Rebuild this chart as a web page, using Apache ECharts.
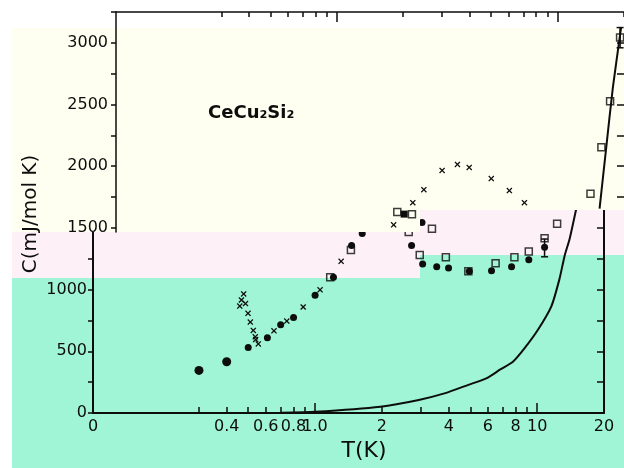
<!DOCTYPE html>
<html>
<head>
<meta charset="utf-8">
<script src="https://cdn.jsdelivr.net/npm/echarts@6/dist/echarts.min.js"></script>
<style>html,body{margin:0;padding:0;background:#fff}#c{width:624px;height:468px}</style>
</head>
<body>
<div id="c"></div>
<script>
// ---------- data (lower part of the figure) ----------
const circleT = [0.30, 0.40, 0.50, 0.61, 0.70, 0.80, 1.00, 1.21, 1.46, 1.63, 2.72, 3.03, 3.05, 3.53, 3.99, 4.95, 6.23, 7.67, 9.17, 10.8];
const circleC = [345, 415, 530, 610, 715, 775, 955, 1100, 1357, 1455, 1357, 1544, 1207, 1185, 1175, 1148, 1153, 1185, 1242, 1344];
const squareT = [1.17, 1.45, 2.64, 2.96, 3.36, 3.88, 4.90, 6.50, 7.90, 9.17, 10.8, 12.3];
const squareC = [1100, 1321, 1466, 1281, 1493, 1262, 1148, 1213, 1262, 1308, 1417, 1533];
const crossT = [0.458, 0.466, 0.477, 0.486, 0.499, 0.511, 0.527, 0.538, 0.540, 0.555, 0.653, 0.746, 0.884, 1.053, 1.31];
const crossC = [867, 916, 965, 887, 808, 737, 669, 617, 595, 560, 666, 745, 859, 998, 1229];
const curveT = [0.7, 1.0, 1.97, 2.93, 3.86, 4.9, 5.94, 6.8, 7.8, 8.8, 10.1, 11.6, 12.6, 13.3, 14.0, 15.0];
const curveC = [2, 10, 51, 106, 161, 228, 283, 351, 418, 528, 677, 867, 1085, 1275, 1411, 1656];
const errT = [10.8, 10.8];
const errC = [1266, 1410];
// ---------- data (upper part of the figure) ----------
const upCrossT = [1.81, 2.21, 2.48, 3.00, 3.52, 3.98, 5.01, 6.05, 7.08];
const upCrossC = [1525, 1705, 1810, 1966, 2015, 1990, 1900, 1803, 1705];
const upSquareT = [1.88, 2.19, 14.1, 15.8, 17.3, 19.2];
const upSquareC = [1629, 1610, 1778, 2153, 2526, 3043];
const upCircleT = [2.02];
const upCircleC = [1612];
const upCurveT = [15.5, 16.6, 17.8, 19.4];
const upCurveC = [1656, 2145, 2635, 3124];
const upErrT = [19.2, 19.2];
const upErrC = [2960, 3124];
// ---------- ticks ----------
const xTicks = [0.3, 0.4, 0.5, 0.6, 0.7, 0.8, 0.9, 1, 2, 3, 4, 5, 6, 7, 8, 9, 10, 20];
const xMajorTicks = [1, 10];
const xLabels = [0.1, 0.4, 0.6, 0.8, 1, 2, 4, 6, 8, 10, 20];
const xLabelText = ['0', '0.4', '0.6', '0.8', '1.0', '2', '4', '6', '8', '10', '20'];
const yLowLabels = [0, 500, 1000];
const yUpLabels = [1500, 2000, 2500, 3000];
const yUpTicks = [1500, 1750, 2000, 2250, 2500, 2750, 3000, 3250];
const yUpRightTicks = [1750, 2000, 2250, 2500, 2750, 3000];

const zip = (a, b) => a.map((v, i) => [v, b[i]]);
const INK = '#0d0d0d';
const FONT = 'DejaVu Sans';
const BEIGE = '#fefff0', PINK = '#fdf1f7', GREEN = '#9ff5d6';
const crossPath = 'path://M0,1.5L1.5,0L5,3.5L8.5,0L10,1.5L6.5,5L10,8.5L8.5,10L5,6.5L1.5,10L0,8.5L3.5,5Z';
const plain = v => String(Math.round(v));

const chart = echarts.init(document.getElementById('c'), null, {renderer: 'canvas'});
const logX = (grid, extra) => Object.assign({
  gridIndex: grid, type: 'log', logBase: 10, min: 0.1, max: 20,
  splitLine: {show: false}, minorTick: {show: false}
}, extra);

chart.setOption({
  backgroundColor: '#ffffff',
  animation: false,
  textStyle: {fontFamily: FONT, color: INK},
  grid: [
    {left: 93, right: 20, top: 12, bottom: 55},
    {left: 116, width: 511, top: 12, height: 220}
  ],
  xAxis: [
    logX(0, {position: 'bottom', z: 2,
      axisLine: {lineStyle: {color: INK, width: 2}},
      axisTick: {inside: true, length: 6, customValues: xTicks, lineStyle: {color: INK, width: 1.5}},
      axisLabel: {customValues: xLabels, margin: 6, fontSize: 16, fontFamily: FONT, color: INK,
        formatter: v => { const i = xLabels.findIndex(x => Math.abs(x - v) < 1e-6); return i >= 0 ? xLabelText[i] : ''; }}
    }),
    logX(1, {position: 'top', z: 5,
      axisLine: {lineStyle: {color: INK, width: 1.5}},
      axisTick: {inside: true, length: 5, customValues: xTicks, lineStyle: {color: INK, width: 1.5}},
      axisLabel: {show: false}
    }),
    logX(0, {position: 'bottom', z: 2,
      axisLine: {show: false},
      axisTick: {inside: true, length: 10, customValues: xMajorTicks, lineStyle: {color: INK, width: 1.5}},
      axisLabel: {show: false}
    }),
    logX(1, {position: 'top', z: 5,
      axisLine: {show: false},
      axisTick: {inside: true, length: 10, customValues: xMajorTicks, lineStyle: {color: INK, width: 1.5}},
      axisLabel: {show: false}
    })
  ],
  yAxis: [
    {gridIndex: 0, type: 'value', min: 0, max: 3250, interval: 250, position: 'left', z: 2,
      splitLine: {show: false},
      axisLine: {show: true, lineStyle: {color: INK, width: 2}},
      axisTick: {show: true, inside: false, length: 5, lineStyle: {color: INK, width: 1.5}},
      axisLabel: {customValues: yLowLabels, margin: 6, fontSize: 16, fontFamily: FONT, color: INK, formatter: plain}
    },
    {gridIndex: 0, type: 'value', min: 0, max: 3250, interval: 250, position: 'right', z: 2,
      splitLine: {show: false},
      axisLine: {show: true, lineStyle: {color: INK, width: 2}},
      axisTick: {show: true, inside: true, length: 7, lineStyle: {color: INK, width: 1.5}},
      axisLabel: {show: false}
    },
    {gridIndex: 1, type: 'value', min: 1467, max: 3250, position: 'left', z: 5,
      splitLine: {show: false},
      axisLine: {show: true, lineStyle: {color: INK, width: 1.5}},
      axisTick: {show: true, inside: false, length: 5, customValues: yUpTicks, lineStyle: {color: INK, width: 1.5}},
      axisLabel: {customValues: yUpLabels, margin: 8, fontSize: 16, fontFamily: FONT, color: INK, formatter: plain}
    },
    {gridIndex: 1, type: 'value', min: 1467, max: 3250, position: 'right', z: 5,
      splitLine: {show: false},
      axisLine: {show: false},
      axisTick: {show: true, inside: true, length: 7, customValues: yUpRightTicks, lineStyle: {color: INK, width: 1.5}},
      axisLabel: {show: false}
    }
  ],
  graphic: [
    {type: 'rect', z: 1, silent: true, shape: {x: 12, y: 232, width: 408, height: 46}, style: {fill: PINK}},
    {type: 'rect', z: 1, silent: true, shape: {x: 420, y: 210, width: 204, height: 45}, style: {fill: PINK}},
    {type: 'rect', z: 1, silent: true, shape: {x: 12, y: 278, width: 408, height: 190}, style: {fill: GREEN}},
    {type: 'rect', z: 1, silent: true, shape: {x: 420, y: 255, width: 204, height: 213}, style: {fill: GREEN}},
    {type: 'rect', z: 4, silent: true, shape: {x: 12, y: 28, width: 408, height: 204}, style: {fill: BEIGE}},
    {type: 'rect', z: 4, silent: true, shape: {x: 420, y: 28, width: 204, height: 182}, style: {fill: BEIGE}},
    {type: 'rect', z: 4, silent: true, shape: {x: 0, y: 0, width: 624, height: 28}, style: {fill: '#ffffff'}},
    {type: 'text', z: 7, left: 208, top: 104, silent: true,
      style: {text: 'CeCu₂Si₂', font: 'bold 18px "DejaVu Sans"', fill: INK}},
    {type: 'text', z: 7, x: 31, y: 214, rotation: Math.PI / 2, silent: true,
      style: {text: 'C(mJ/mol K)', font: '20px "DejaVu Sans"', fill: INK, align: 'center', verticalAlign: 'middle'}},
    {type: 'text', z: 7, x: 364, y: 451, silent: true,
      style: {text: 'T(K)', font: '22px "DejaVu Sans"', fill: INK, align: 'center', verticalAlign: 'middle'}}
  ],
  series: [
    {type: 'line', xAxisIndex: 0, yAxisIndex: 0, z: 3, data: zip(curveT, curveC), smooth: 0.2,
      showSymbol: false, symbol: 'none', lineStyle: {color: INK, width: 2}},
    {type: 'scatter', xAxisIndex: 0, yAxisIndex: 0, z: 3, data: zip(squareT, squareC), symbol: 'rect', symbolSize: 7,
      itemStyle: {color: 'rgba(0,0,0,0)', borderColor: INK, borderWidth: 1.5}},
    {type: 'scatter', xAxisIndex: 0, yAxisIndex: 0, z: 3, data: zip(circleT, circleC), symbol: 'circle',
      symbolSize: (v) => v[0] < 0.45 ? 9 : 7, itemStyle: {color: INK, opacity: 1}},
    {type: 'scatter', xAxisIndex: 0, yAxisIndex: 0, z: 3, data: zip(crossT, crossC), symbol: crossPath, symbolSize: 6,
      itemStyle: {color: INK, opacity: 1}},
    {type: 'line', xAxisIndex: 0, yAxisIndex: 0, z: 3, data: zip(errT, errC), symbol: 'rect', symbolSize: [7, 1.5],
      showSymbol: true, lineStyle: {color: INK, width: 1.5}, itemStyle: {color: INK}},
    {type: 'line', xAxisIndex: 1, yAxisIndex: 2, z: 6, data: zip(upCurveT, upCurveC), smooth: 0.2,
      showSymbol: false, symbol: 'none', lineStyle: {color: INK, width: 2}},
    {type: 'scatter', xAxisIndex: 1, yAxisIndex: 2, z: 6, data: zip(upSquareT, upSquareC), symbol: 'rect', symbolSize: 7,
      itemStyle: {color: 'rgba(0,0,0,0)', borderColor: INK, borderWidth: 1.5}},
    {type: 'scatter', xAxisIndex: 1, yAxisIndex: 2, z: 6, data: zip(upCircleT, upCircleC), symbol: 'rect', symbolSize: 7,
      itemStyle: {color: INK, opacity: 1}},
    {type: 'scatter', xAxisIndex: 1, yAxisIndex: 2, z: 6, data: zip(upCrossT, upCrossC), symbol: crossPath, symbolSize: 6,
      itemStyle: {color: INK, opacity: 1}},
    {type: 'line', xAxisIndex: 1, yAxisIndex: 2, z: 6, data: zip(upErrT, upErrC), symbol: 'rect', symbolSize: [7, 1.5],
      showSymbol: true, lineStyle: {color: INK, width: 1.5}, itemStyle: {color: INK}}
  ]
});
</script>
</body>
</html>
